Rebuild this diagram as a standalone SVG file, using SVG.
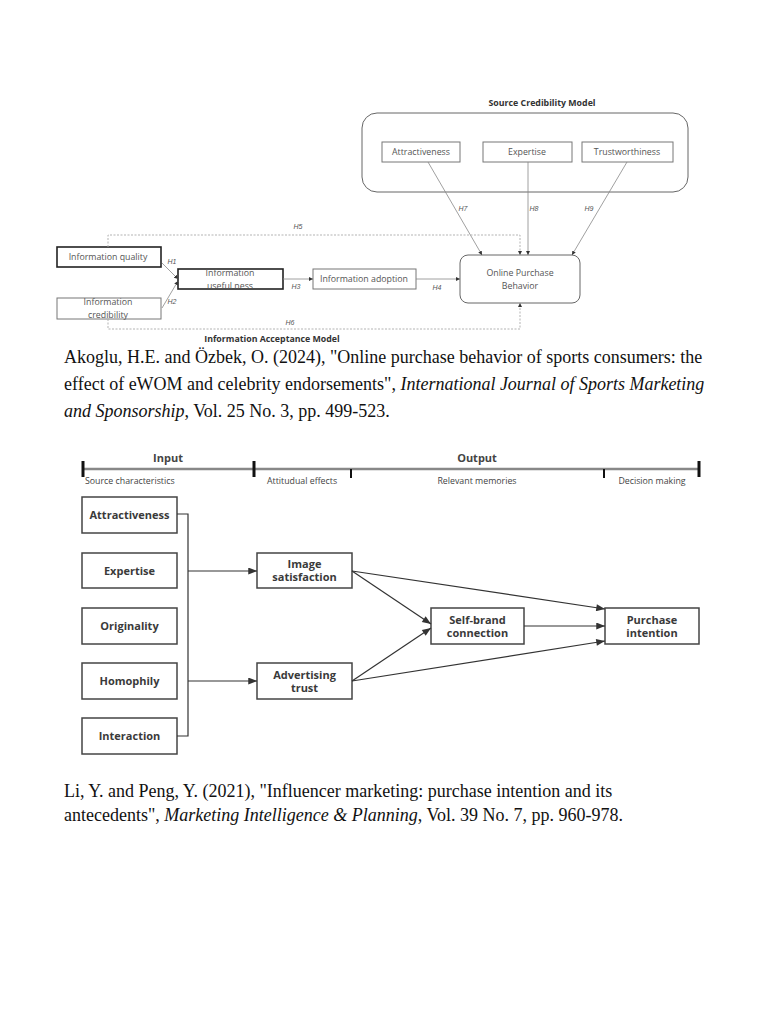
<svg xmlns="http://www.w3.org/2000/svg" width="768" height="1024" viewBox="0 0 768 1024">
<defs>
<style>
.t1{font-family:"Open Sans","Liberation Sans",sans-serif;font-size:8.8px;fill:#555;text-anchor:middle}
.t1b{font-family:"Open Sans","Liberation Sans",sans-serif;font-size:8.8px;font-weight:bold;fill:#333;text-anchor:middle}
.h{font-family:"Liberation Sans",sans-serif;font-size:7px;font-style:italic;fill:#555;text-anchor:middle}
.b1{fill:#fff;stroke:#777;stroke-width:1}
.b1k{fill:#fff;stroke:#222;stroke-width:1.6}
.l1{fill:none;stroke:#888;stroke-width:0.8}
.d1{fill:none;stroke:#aaa;stroke-width:0.9;stroke-dasharray:2,1.5}
.cap{font-family:"Liberation Serif",serif;font-size:18px;fill:#111}
.t2{font-family:"Open Sans","Noto Sans",sans-serif;font-size:11px;font-weight:bold;fill:#3a3a3a;text-anchor:middle}
.t2s{font-family:"Open Sans","Noto Sans",sans-serif;font-size:8.8px;fill:#444}
.t2h{font-family:"Open Sans","Noto Sans",sans-serif;font-size:11px;font-weight:bold;fill:#444;text-anchor:middle}
.b2{fill:#fff;stroke:#444;stroke-width:1.5}
.l2{fill:none;stroke:#333;stroke-width:1.2}
</style>
<marker id="a1" viewBox="0 0 6 6" refX="6" refY="3" markerWidth="4" markerHeight="4" orient="auto" markerUnits="userSpaceOnUse"><path d="M0,0 L6,3 L0,6 z" fill="#333"/></marker>
<marker id="a2" viewBox="0 0 10 8" refX="10" refY="4" markerWidth="10" markerHeight="7" orient="auto" markerUnits="userSpaceOnUse"><path d="M0,0 L10,4 L0,8 z" fill="#333"/></marker>
</defs>
<rect width="768" height="1024" fill="#fff"/>

<!-- Diagram 1 -->
<g id="scm-group">
<rect x="362" y="113" width="326" height="79" rx="15" fill="#fff" stroke="#666" stroke-width="1"/>
<text class="t1b" x="542" y="106">Source Credibility Model</text>
</g>
<g id="n-attr1"><rect class="b1" x="382" y="142" width="78" height="20"/><text class="t1" x="421" y="155">Attractiveness</text></g>
<g id="n-exp1"><rect class="b1" x="483" y="142" width="89" height="20"/><text class="t1" x="527" y="155">Expertise</text></g>
<g id="n-trust1"><rect class="b1" x="582" y="142" width="91" height="20"/><text class="t1" x="627" y="155">Trustworthiness</text></g>
<g id="n-opb"><rect x="460" y="255" width="120" height="48" rx="8" fill="#fff" stroke="#666" stroke-width="1"/><text class="t1" x="520" y="276">Online Purchase</text><text class="t1" x="520" y="289">Behavior</text></g>
<g id="n-iq"><rect class="b1k" x="57" y="247" width="104" height="20"/><text class="t1" x="108" y="260">Information quality</text></g>
<g id="n-ic"><rect class="b1" x="57" y="298" width="104" height="21"/><text class="t1" x="108" y="305">Information</text><text class="t1" x="108" y="318">credibility</text></g>
<g id="n-iu"><rect class="b1k" x="178" y="269" width="105" height="20"/><text class="t1" x="230" y="276">Information</text><text class="t1" x="230" y="289">useful ness</text></g>
<g id="n-ia"><rect class="b1" x="313" y="269" width="103" height="20"/><text class="t1" x="364" y="282">Information adoption</text></g>
<text class="t1b" x="272" y="342">Information Acceptance Model</text>

<g id="connectors1">
<path class="l1" d="M162,263 L178,279" marker-end="url(#a1)"/>
<path class="l1" d="M162,308 L178,281" marker-end="url(#a1)"/>
<path class="l1" d="M283,279 L313,279" marker-end="url(#a1)"/>
<path class="l1" d="M416,279 L460,279" marker-end="url(#a1)"/>
<path class="l1" d="M428,162 L482,255" marker-end="url(#a1)"/>
<path class="l1" d="M528,162 L528,255" marker-end="url(#a1)"/>
<path class="l1" d="M627,162 L572,255" marker-end="url(#a1)"/>
<path class="d1" d="M108,247 V235 H520 V255" marker-end="url(#a1)"/>
<path class="d1" d="M108,319 V329 H520 V303" marker-end="url(#a1)"/>
<text class="h" x="172" y="264">H1</text>
<text class="h" x="172" y="304">H2</text>
<text class="h" x="296" y="289">H3</text>
<text class="h" x="437" y="290">H4</text>
<text class="h" x="298" y="229">H5</text>
<text class="h" x="290" y="325">H6</text>
<text class="h" x="463" y="211">H7</text>
<text class="h" x="534" y="211">H8</text>
<text class="h" x="589" y="211">H9</text>
</g>

<text class="cap" x="64" y="363">Akoglu, H.E. and Özbek, O. (2024), "Online purchase behavior of sports consumers: the</text>
<text class="cap" x="64" y="390">effect of eWOM and celebrity endorsements", <tspan font-style="italic">International Journal of Sports Marketing</tspan></text>
<text class="cap" x="64" y="417"><tspan font-style="italic">and Sponsorship</tspan>, Vol. 25 No. 3, pp. 499-523.</text>

<!-- Diagram 2 -->
<g id="timeline">
<line x1="83" y1="469" x2="699" y2="469" stroke="#888" stroke-width="2.5"/>
<line x1="83" y1="461" x2="83" y2="477" stroke="#111" stroke-width="3"/>
<line x1="254" y1="461" x2="254" y2="477" stroke="#111" stroke-width="3"/>
<line x1="699" y1="461" x2="699" y2="477" stroke="#111" stroke-width="3"/>
<line x1="351" y1="469" x2="351" y2="478" stroke="#111" stroke-width="2"/>
<line x1="604" y1="469" x2="604" y2="478" stroke="#111" stroke-width="2"/>
<text class="t2h" x="168" y="462">Input</text>
<text class="t2h" x="477" y="462">Output</text>
<text class="t2s" x="85" y="484">Source characteristics</text>
<text class="t2s" x="267" y="484">Attitudual effects</text>
<text class="t2s" x="477" y="484" text-anchor="middle">Relevant memories</text>
<text class="t2s" x="652" y="484" text-anchor="middle">Decision making</text>
</g>
<g id="n-attr2"><rect class="b2" x="82" y="497" width="95" height="36"/><text class="t2" x="129.5" y="519">Attractiveness</text></g>
<g id="n-exp2"><rect class="b2" x="82" y="553" width="95" height="35"/><text class="t2" x="129.5" y="575">Expertise</text></g>
<g id="n-orig"><rect class="b2" x="82" y="608" width="95" height="36"/><text class="t2" x="129.5" y="630">Originality</text></g>
<g id="n-homo"><rect class="b2" x="82" y="663" width="95" height="36"/><text class="t2" x="129.5" y="685">Homophily</text></g>
<g id="n-inter"><rect class="b2" x="82" y="718" width="95" height="36"/><text class="t2" x="129.5" y="740">Interaction</text></g>
<g id="n-img"><rect class="b2" x="257" y="553" width="95" height="35"/><text class="t2" x="304.5" y="568">Image</text><text class="t2" x="304.5" y="581">satisfaction</text></g>
<g id="n-adv"><rect class="b2" x="257" y="663" width="95" height="36"/><text class="t2" x="304.5" y="679">Advertising</text><text class="t2" x="304.5" y="692">trust</text></g>
<g id="n-sbc"><rect class="b2" x="431" y="608" width="93" height="36"/><text class="t2" x="477.5" y="624">Self-brand</text><text class="t2" x="477.5" y="637">connection</text></g>
<g id="n-pi"><rect class="b2" x="605" y="608" width="94" height="36"/><text class="t2" x="652" y="624">Purchase</text><text class="t2" x="652" y="637">intention</text></g>

<g id="connectors2">
<path class="l2" d="M177,514 H188 V736 H177"/>
<path class="l2" d="M188,571 H257" marker-end="url(#a2)"/>
<path class="l2" d="M188,681 H257" marker-end="url(#a2)"/>
<path class="l2" d="M352,571 L431,624" marker-end="url(#a2)"/>
<path class="l2" d="M352,571 L605,609" marker-end="url(#a2)"/>
<path class="l2" d="M352,681 L431,628" marker-end="url(#a2)"/>
<path class="l2" d="M352,681 L605,641" marker-end="url(#a2)"/>
<path class="l2" d="M524,626 L605,626" marker-end="url(#a2)"/>
</g>

<text class="cap" x="64" y="797">Li, Y. and Peng, Y. (2021), "Influencer marketing: purchase intention and its</text>
<text class="cap" x="64" y="821">antecedents", <tspan font-style="italic">Marketing Intelligence &amp; Planning</tspan>, Vol. 39 No. 7, pp. 960-978.</text>
</svg>
